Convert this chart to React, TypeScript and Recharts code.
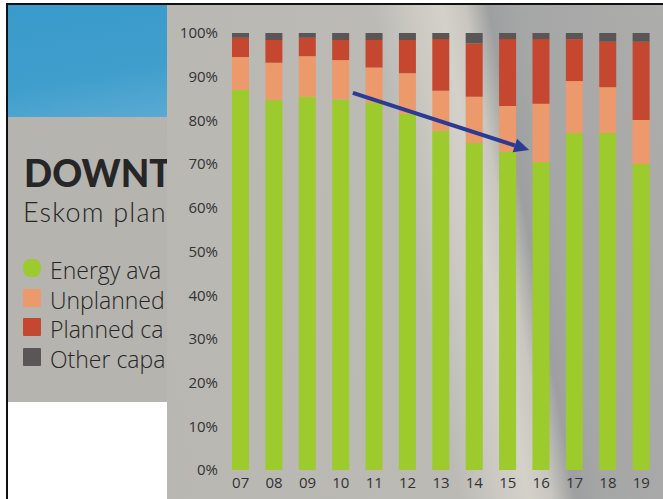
import React from 'react';
import { BarChart, Bar, XAxis, YAxis, ReferenceLine } from 'recharts';

// financial years 2007..2019, share of capacity in %
const yearLabels = ['07', '08', '09', '10', '11', '12', '13', '14', '15', '16', '17', '18', '19'];
const energyAvailability = [87, 84.7, 85.4, 84.8, 84, 81.5, 77.6, 74.8, 72.8, 70.5, 77.1, 77.1, 70];
const unplannedLoss = [7.5, 8.5, 9.3, 9.0, 8.1, 9.3, 9.2, 10.6, 10.5, 13.3, 11.9, 10.5, 10.1];
const plannedLoss = [4.4, 5.2, 4.2, 4.6, 6.3, 7.6, 11.8, 12.2, 15.3, 14.8, 9.6, 10.4, 17.9];
const otherLoss = [1.1, 1.6, 1.1, 1.6, 1.6, 1.6, 1.4, 2.4, 1.4, 1.4, 1.4, 2.0, 2.0];
const percentTicks = [0, 10, 20, 30, 40, 50, 60, 70, 80, 90, 100];

// the hand-drawn arrow, in data units (year, %)
const trendArrow = [
  { x: 10.36, y: 86.3 },
  { x: 15.64, y: 73.2 },
];

const series = [
  { key: 'energy', label: 'Energy ava', color: '#9dca2c' },
  { key: 'unplanned', label: 'Unplanned', color: '#ec9a6c' },
  { key: 'planned', label: 'Planned ca', color: '#c6472f' },
  { key: 'other', label: 'Other capa', color: '#5b5556' },
];

const data = yearLabels.map((label, i) => ({
  year: Number(label),
  energy: energyAvailability[i],
  unplanned: unplannedLoss[i],
  planned: plannedLoss[i],
  other: otherLoss[i],
}));

const FONT = '"Open Sans", "DejaVu Sans", sans-serif';
const HEAD_FONT = 'Lato, "Open Sans", sans-serif';

const Arrow = (props: any) => {
  const { x1, y1, x2, y2, stroke } = props;
  const ang = Math.atan2(y2 - y1, x2 - x1);
  const len = 15;
  const half = 7;
  const bx = x2 - len * Math.cos(ang);
  const by = y2 - len * Math.sin(ang);
  const px = -Math.sin(ang) * half;
  const py = Math.cos(ang) * half;
  return (
    <g>
      <line x1={x1} y1={y1} x2={bx} y2={by} stroke={stroke} strokeWidth={4} />
      <polygon points={`${x2},${y2} ${bx + px},${by + py} ${bx - px},${by - py}`} fill={stroke} />
    </g>
  );
};

export default function App() {
  const legendBase = 278;
  const rowGap = 29.7;
  return (
    <div style={{ position: 'absolute', left: 0, top: 0, width: 663, height: 499, background: '#fff', overflow: 'hidden', fontFamily: FONT }}>
      {/* left page strip */}
      <div style={{ position: 'absolute', left: 8, top: 5, width: 160, height: 112, background: 'linear-gradient(170deg, #3a9acb 0%, #3f9ecc 60%, #5aaad3 100%)' }} />
      <div style={{ position: 'absolute', left: 8, top: 117, width: 160, height: 285, background: '#b5b4af' }} />
      <div style={{ position: 'absolute', left: 24, top: 158, height: 30, fontFamily: HEAD_FONT, fontSize: 37, fontWeight: 900, lineHeight: '30px', color: '#262626', whiteSpace: 'nowrap' }}>DOWNT</div>
      <div style={{ position: 'absolute', left: 23, top: 199, height: 26, fontFamily: HEAD_FONT, fontSize: 27, fontWeight: 300, letterSpacing: 1.2, lineHeight: '26px', color: '#262626', whiteSpace: 'nowrap' }}>Eskom plan</div>
      {series.map((s, i) => (
        <React.Fragment key={s.key}>
          <div style={{ position: 'absolute', left: 23, top: legendBase + i * rowGap - 19, width: 18, height: 18, background: s.color, borderRadius: i === 0 ? 8 : 1 }} />
          <div style={{ position: 'absolute', left: 50, top: legendBase + i * rowGap - 20, height: 24, fontSize: 23, fontWeight: 300, lineHeight: '24px', color: '#262626', whiteSpace: 'nowrap' }}>{s.label}</div>
        </React.Fragment>
      ))}

      {/* frame line, left */}
      <div style={{ position: 'absolute', left: 6, top: 3, width: 2, height: 496, background: '#111' }} />

      {/* chart panel */}
      <div
        style={{
          position: 'absolute',
          left: 167,
          top: 5,
          width: 496,
          height: 494,
          background:
            'linear-gradient(80deg, #b8b7b2 0%, #bbbab5 50%, #cbc9c2 57%, #d4d1c9 62%, #c8c6bf 66%, #9e9fa0 70%, #a5a6a6 75%, #adadab 100%)',
        }}
      >
        <BarChart width={496} height={494} data={data} margin={{ top: 28, right: 5, left: 0, bottom: 0 }}>
          <XAxis
            dataKey="year"
            type="number"
            domain={[6.5, 19.5]}
            ticks={data.map((d) => d.year)}
            tickFormatter={(v: number) => String(v).padStart(2, '0')}
            axisLine={false}
            tickLine={false}
            height={29}
            tickSize={4}
            tickMargin={3}
            tick={{ fill: '#333', fontSize: 15, fontFamily: FONT }}
            interval={0}
          />
          <YAxis
            type="number"
            domain={[0, 100]}
            ticks={percentTicks}
            tickFormatter={(v: number) => `${v}%`}
            axisLine={false}
            tickLine={false}
            width={57}
            tickSize={4}
            tickMargin={2}
            tick={{ fill: '#333', fontSize: 15, fontFamily: FONT }}
          />
          {series.map((s) => (
            <Bar key={s.key} dataKey={s.key} stackId="a" fill={s.color} barSize={17} isAnimationActive={false} />
          ))}
          <ReferenceLine segment={trendArrow} stroke="#2b3a94" shape={Arrow} ifOverflow="visible" />
        </BarChart>
      </div>
      {/* frame line, top */}
      <div style={{ position: 'absolute', left: 6, top: 3, width: 657, height: 2, background: '#111' }} />
    </div>
  );
}
